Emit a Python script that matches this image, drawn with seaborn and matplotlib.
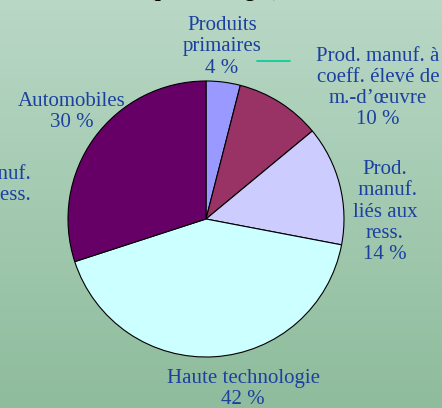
import numpy as np
import matplotlib
matplotlib.use("Agg")
import matplotlib.pyplot as plt
import seaborn as sns
from matplotlib.colors import LinearSegmentedColormap

sns.set_theme(style="white")
plt.rcParams['font.family'] = ['Liberation Serif', 'DejaVu Serif']

categories = ["Produits primaires", "Prod. manuf. à coeff. élevé de m.-d'œuvre",
              "Prod. manuf. liés aux ress.", "Haute technologie", "Automobiles"]
values = [4, 10, 14, 42, 30]
label_texts = ["Produits\nprimaires\n4 %",
               "Prod. manuf. à\ncoeff. élevé de\nm.-d\u2019\u0153uvre\n10 %",
               "Prod.\n manuf.\nliés aux\nress.\n14 %",
               "Haute technologie\n42 %",
               "Automobiles\n30 %"]
colors = ["#9999FF", "#993366", "#CCCCFF", "#CCFFFF", "#660066"]

W, H = 442, 408
fig = plt.figure(figsize=(W / 100, H / 100), dpi=100)

# background gradient
bg = fig.add_axes([0, 0, 1, 1])
grad = np.linspace(0, 1, 256).reshape(-1, 1)
cmap = LinearSegmentedColormap.from_list("bg", ["#b9d8c6", "#8ebc9c"])
bg.imshow(grad, aspect="auto", cmap=cmap, extent=[0, 1, 0, 1], origin="upper")
bg.set_axis_off()

def px(x, y):
    return x / W, 1 - y / H

cx, cy, r = 206, 219, 138
ax = fig.add_axes([(cx - r) / W, (H - cy - r) / H, 2 * r / W, 2 * r / H])
ax.pie(values, colors=colors, startangle=90, counterclock=False,
       wedgeprops=dict(edgecolor="black", linewidth=0.8))
ax.set_xlim(-1.0, 1.0)
ax.set_ylim(-1.0, 1.0)
ax.set_aspect("equal")
ax.set_axis_off()

blue = "#1c40a0"
fs = 15
pos = [(222, 47), (378, 88), (385, 212), (243, 389), (72, 112)]
for t, (x, y) in zip(label_texts, pos):
    fig.text(*px(x, y), t, ha="center", va="center", color=blue,
             fontsize=fs, linespacing=1.15)

# partially visible label from left edge
fig.text(*px(31, 185), "Prod. manuf.\nliés aux ress.", ha="right", va="center",
         color=blue, fontsize=fs, linespacing=1.15)

# partially visible title
fig.text(*px(240, -9), "(pourcentages), 1998", ha="center", va="center",
         color="black", fontsize=fs, fontweight="bold")

# leader line
fig.add_artist(plt.Line2D([257 / W, 290 / W], [1 - 61 / H, 1 - 61 / H],
                          color="#00cc99", linewidth=1.2, transform=fig.transFigure))

fig.savefig("out.png", dpi=100)
